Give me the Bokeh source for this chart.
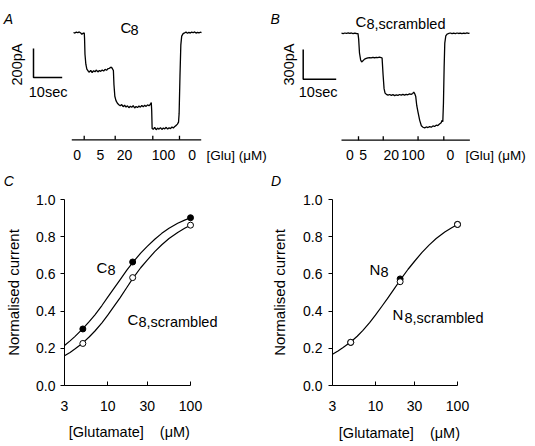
import math
from bokeh.plotting import figure
from bokeh.layouts import column, row
from bokeh.models import Range1d, Label, FixedTicker, PrintfTickFormatter
from bokeh.core.properties import value
from bokeh.embed import file_html
from bokeh.resources import INLINE

FONT = "Liberation Sans"

# ---------------- data ----------------
# Panel A: whole-cell current trace, C8 (time in s, current in pA)
a_time = [0, 0.5, 1.0, 1.5, 2.0, 2.5, 2.9, 3.3, 3.75,
          3.85, 4.0, 4.3, 4.65, 5.2,
          5.5, 6.0, 6.5, 7.0, 7.5, 8.0, 8.5, 9.0, 9.5, 10.0, 10.5, 11.0, 11.5, 12.0, 12.5, 13.0, 13.4,
          13.9, 14.1, 14.4, 14.8, 15.3, 15.8,
          16.3, 16.8, 17.3, 17.8, 18.3, 18.8, 19.3, 19.8, 20.3, 20.8, 21.3, 21.8, 22.3, 22.8, 23.3, 23.8,
          24.3, 24.8, 25.3, 25.8, 26.3, 26.8, 27.1,
          27.25, 27.4,
          27.8, 28.3, 28.8, 29.3, 29.8, 30.3, 30.8, 31.3, 31.8, 32.3, 32.8, 33.3, 33.8, 34.3, 34.8, 35.3,
          35.8, 36.2, 36.6,
          36.8, 37.1, 37.4, 37.7, 38.2,
          38.7, 39.2, 39.7, 40.2, 40.7, 41.2, 41.7, 42.2, 42.7, 43.2, 43.7, 44.2, 44.6]
a_current = [0, -4, 3, -2, 4, -3, -12, -6, -3,
             -40, -150, -219, -253, -269,
             -274, -262, -276, -264, -271, -259, -272, -262, -268, -258, -266, -254, -261, -250, -247, -239, -244,
             -262, -360, -440, -470, -488, -498,
             -506, -497, -512, -502, -515, -506, -519, -509, -516, -505, -521, -511, -518, -507, -515, -504,
             -513, -502, -510, -499, -506, -495, -484,
             -540, -662,
             -668, -655, -671, -660, -667, -656, -669, -659, -665, -654, -667, -657, -663, -652, -659, -648,
             -641, -632, -618,
             -560, -300, -85, -25, -8,
             -3, 3, -5, 1, -4, 3, -2, 4, -4, 1, -3, 2, -1]
a_step_times = [3.73, 14.53, 27.63, 36.93]
a_conc = ["0", "5", "20", "100", "0"]
a_conc_time = [1.27, 9.41, 17.77, 31.36, 41.36]
a_bar_time = [-0.6, 44.5]
a_scale_s, a_scale_pa = 10, 200

# Panel B: whole-cell current trace, C8,scrambled
b_time = [0, 0.5, 1.0, 1.5, 2.0, 2.5, 3.0, 3.5, 4.0, 4.5, 5.0,
          5.2, 5.45, 5.8, 6.1, 6.5, 7.0, 7.5, 8.0, 8.5, 9.0, 9.5, 10.0, 10.5, 11.0, 11.5, 12.0,
          12.3, 12.6, 12.9, 13.2, 13.6, 14.1, 14.6, 15.1, 15.6, 16.1, 16.6, 17.1, 17.6, 18.1, 18.6, 19.1,
          19.6, 20.1, 20.6, 21.1, 21.6, 21.9, 22.2,
          22.5, 22.8, 23.2, 23.7, 24.2, 24.7, 25.2,
          25.7, 26.2, 26.7, 27.2, 27.7, 28.2, 28.7, 29.2, 29.7, 30.2, 30.5, 30.7,
          30.9, 31.1, 31.3, 31.6, 32.0,
          32.5, 33.0, 33.5, 34.0, 34.5, 35.0, 35.5, 36.0, 36.5, 37.0, 37.5, 38.0, 38.5, 38.8]
b_current = [0, -4, 2, -3, 3, -2, 2, -4, 1, -3, -5,
             -60, -200, -270, -290, -278, -262, -255, -249, -246, -250, -244, -248, -243, -247, -242, -246,
             -252, -420, -560, -605, -618, -626, -619, -628, -621, -630, -623, -628, -619, -626, -618, -625,
             -617, -622, -613, -618, -609, -595, -612,
             -640, -730, -800, -880, -935, -950, -956,
             -947, -953, -943, -949, -937, -942, -929, -933, -918, -905, -878, -895,
             -700, -350, -100, -28, -10,
             -3, 2, -5, 0, -4, 2, -3, 1, -5, 0, -3, 3, -2, 0]
b_step_times = [5.15, 12.65, 23.2, 31.0]
b_conc = ["0", "5", "20", "100", "0"]
b_conc_time = [2.55, 6.58, 15.06, 21.67, 33.03]
b_bar_time = [0.0, 38.9]
b_scale_s, b_scale_pa = 10, 300

# Panels C and D: concentration-response data
glu = [5, 20, 100]
c8 = [0.304, 0.664, 0.902]
c8_scr = [0.226, 0.580, 0.862]
n8 = [0.232, 0.573, 0.866]
n8_scr = [0.232, 0.558, 0.866]

fit_x = [3, 3.5, 4, 5, 6, 7, 8.5, 10, 12, 14, 17, 20, 25, 30, 37, 45, 55, 70, 85, 100]
fit_c8 = [0.215, 0.240, 0.263, 0.306, 0.345, 0.380, 0.430, 0.475, 0.525, 0.567,
          0.620, 0.660, 0.712, 0.748, 0.786, 0.818, 0.845, 0.872, 0.889, 0.902]
fit_c8_scr = [0.160, 0.178, 0.196, 0.229, 0.262, 0.293, 0.337, 0.378, 0.428, 0.470,
              0.527, 0.575, 0.633, 0.674, 0.720, 0.757, 0.790, 0.823, 0.845, 0.862]
fit_n8 = [0.168, 0.186, 0.203, 0.234, 0.265, 0.295, 0.338, 0.378, 0.426, 0.467,
          0.521, 0.566, 0.625, 0.668, 0.716, 0.755, 0.790, 0.825, 0.848, 0.866]

y_ticks = [0.0, 0.2, 0.4, 0.6, 0.8, 1.0]
x_ticks = [3, 10, 30, 100]

TOP_H = 188        # height of the trace row (also holds the C / D panel letters)
BOTTOM_H = 446 - TOP_H


# ---------------- helpers ----------------
def add_label(p, x, y, text, size="14px", style="normal", align="left",
              baseline="alphabetic", angle=0.0):
    p.add_layout(Label(x=x, y=y, text=text, text_font=FONT, text_font_size=size,
                       text_font_style=style, text_align=align, text_baseline=baseline,
                       text_color="black", angle=angle))


def trace_panel(left, width, t0_px, px_per_s, i0_py, pa_per_px, t, cur, steps, bar_t,
                bar_py, conc, conc_t, scale_s, scale_pa, corner, letters,
                title_main, title_pos, title_sub, sub_pos, scale_txt, scale_txt_pos,
                sec_pos, glu_pos):
    top, height = 0, TOP_H

    def tx(px):
        return (px - t0_px) / px_per_s

    def ty(py):
        return (i0_py - py) * pa_per_px

    p = figure(width=width, height=height,
               x_range=Range1d(tx(left), tx(left + width)),
               y_range=Range1d(ty(top + height), ty(top)),
               x_axis_location=None, y_axis_location=None,
               toolbar_location=None, output_backend="svg", min_border=0,
               outline_line_color=None, background_fill_color="white",
               border_fill_color="white")
    p.grid.grid_line_color = None

    # current trace
    p.line(t, cur, line_color="black", line_width=1.3)

    # application protocol bar
    bar_i = ty(bar_py)
    p.line(bar_t, [bar_i, bar_i], line_color="black", line_width=1.3)
    p.segment(x0=steps, x1=steps, y0=[bar_i] * len(steps), y1=[ty(bar_py - 4)] * len(steps),
              line_color="black", line_width=1.3)
    p.text(x=conc_t, y=[ty(glu_pos[1])] * len(conc), text=conc, text_align="center",
           text_baseline="middle", text_font=value(FONT), text_font_size=value("14px"),
           text_color="black")
    add_label(p, tx(glu_pos[0]), ty(glu_pos[1]), "[Glu] (\u03bcM)", size="13.5px",
              baseline="middle")

    # scale bars
    cx, cy = tx(corner[0]), ty(corner[1])
    p.line([cx, cx, cx + scale_s], [cy + scale_pa, cy, cy], line_color="black", line_width=1.5)
    add_label(p, tx(scale_txt_pos[0]), ty(scale_txt_pos[1]), scale_txt, size="14.5px",
              align="center", baseline="middle", angle=math.pi / 2)
    add_label(p, tx(sec_pos[0]), ty(sec_pos[1]), "10sec", size="14.5px", baseline="middle")

    # titles and panel letters
    for (txt, px, py) in letters:
        add_label(p, tx(px), ty(py), txt, size="14px", style="italic")
    add_label(p, tx(title_pos[0]), ty(title_pos[1]), title_main, size="15px")
    add_label(p, tx(sub_pos[0]), ty(sub_pos[1]), title_sub, size="14.5px")
    return p


def dose_panel(left, width, frame_left, frame_w, frame_right, frame_top, frame_h, curves, points,
               texts, pad, xl_stand, yl_stand, tick_stand_x, tick_stand_y):
    top, height = TOP_H, BOTTOM_H
    log_span = math.log10(100 / 3)
    x_end = 3 * 10 ** ((frame_right - frame_left) / frame_w * log_span)

    p = figure(width=width, height=height, x_axis_type="log",
               x_range=Range1d(3, x_end), y_range=Range1d(0, 1),
               toolbar_location=None, output_backend="svg",
               min_border_left=frame_left - left,
               min_border_right=left + width - frame_right,
               min_border_top=frame_top - top,
               min_border_bottom=height - (frame_top - top) - frame_h,
               outline_line_color=None, background_fill_color="white",
               border_fill_color="white")
    p.grid.grid_line_color = None

    xa, ya = p.xaxis[0], p.yaxis[0]
    for ax in (xa, ya):
        ax.axis_line_color = "black"
        ax.axis_line_width = 1
        ax.major_tick_line_color = "black"
        ax.major_tick_line_width = 1
        ax.minor_tick_line_color = None
        ax.major_label_text_font = FONT
        ax.major_label_text_font_size = "14px"
        ax.major_label_text_color = "black"
        ax.axis_label_text_font = FONT
        ax.axis_label_text_font_style = "normal"
        ax.axis_label_text_color = "black"
    xa.ticker = FixedTicker(ticks=x_ticks)
    xa.formatter = PrintfTickFormatter(format="%d")
    xa.bounds = (3, 100)
    xa.major_tick_in = 4
    xa.major_tick_out = 0
    xa.major_label_standoff = tick_stand_x
    xa.axis_label = "[Glutamate]\u00a0\u00a0\u00a0\u00a0(\u03bcM)" + "\u00a0" * pad
    xa.axis_label_text_font_size = "14.5px"
    xa.axis_label_standoff = xl_stand

    ya.ticker = FixedTicker(ticks=y_ticks)
    ya.formatter = PrintfTickFormatter(format="%.1f")
    ya.major_tick_in = 0
    ya.major_tick_out = 4
    ya.major_label_standoff = tick_stand_y
    ya.axis_label = "Normalised current"
    ya.axis_label_text_font_size = "15px"
    ya.axis_label_standoff = yl_stand

    for ys in curves:
        p.line(fit_x, ys, line_color="black", line_width=1.2)
    for ys, filled in points:
        p.scatter(glu, ys, marker="circle", size=6,
                  fill_color="black" if filled else "white",
                  line_color="black", line_width=1)

    def dx(px):
        return 3 * 10 ** ((px - frame_left) / frame_w * log_span)

    def dy(py):
        return (frame_top + frame_h - py) / frame_h

    for (px, py, txt, size) in texts:
        add_label(p, dx(px), dy(py), txt, size=size)
    return p


pa = trace_panel(0, 268, 73.0, 2.87, 32.0, 6.9, a_time, a_current, a_step_times, a_bar_time,
                 139.3, a_conc, a_conc_time, a_scale_s, a_scale_pa, (33.0, 77.0),
                 [("A", 3.3, 18.3), ("C", 3.3, 180.5)],
                 "C", (120.0, 26.7), "8", (130.0, 29.5),
                 "200pA", (16.7, 64.0), (28.3, 91.0), (206.0, 154.5))

pb = trace_panel(268, 267, 341.0, 3.3, 32.7, 10.1, b_time, b_current, b_step_times, b_bar_time,
                 139.7, b_conc, b_conc_time, b_scale_s, b_scale_pa, (302.7, 78.7),
                 [("B", 270.0, 18.3), ("D", 270.5, 180.5)],
                 "C", (355.0, 20.7), "8,scrambled", (366.0, 23.5),
                 "300pA", (288.3, 64.0), (298.3, 91.3), (465.0, 154.5))

pc = dose_panel(0, 266, 64, 126, 226, 199, 190,
                [fit_c8, fit_c8_scr], [(c8, True), (c8_scr, False)],
                [(96.0, 268.0, "C", "15px"), (107.0, 271.0, "8", "14.5px"),
                 (127.0, 321.7, "C", "15px"), (138.0, 324.5, "8,scrambled", "14.5px")],
                8, 10, 11, 15, 5)

pd = dose_panel(266, 269, 332, 125, 490, 196, 189,
                [fit_n8], [(n8, True), (n8_scr, False)],
                [(369.0, 267.0, "N", "15px"), (380.0, 270.0, "8", "14.5px"),
                 (392.0, 313.3, "N", "15px"), (404.0, 316.5, "8,scrambled", "14.5px")],
                6, 11, 12, 15, 6)

layout = column(row(pa, pb), row(pc, pd))
open("out.html", "w").write(file_html(layout, INLINE))
